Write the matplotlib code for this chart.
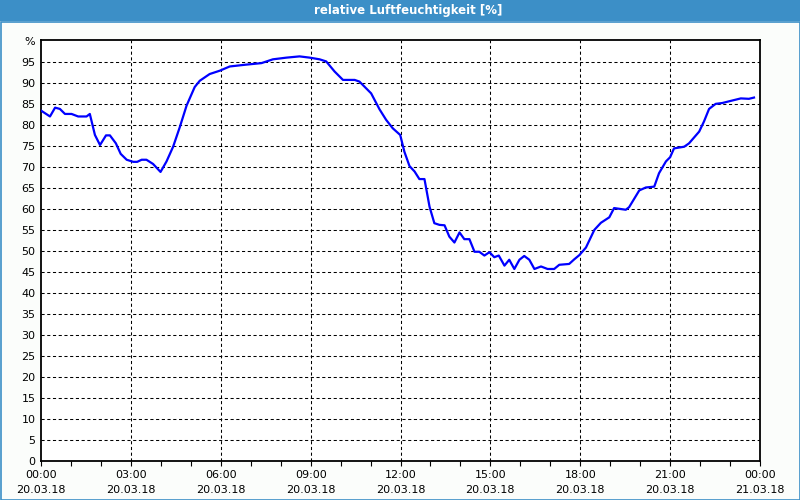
import matplotlib
matplotlib.use("Agg")
import matplotlib.pyplot as plt
from matplotlib.patches import Rectangle

# data: hours since 20.03.18 00:00, relative humidity in %
hours = [0.0, 0.3, 0.47, 0.63, 0.8, 1.02, 1.24, 1.52, 1.63, 1.8, 1.97, 2.17, 2.3, 2.5,
         2.66, 2.86, 3.08, 3.21, 3.36, 3.52, 3.74, 3.99, 4.19, 4.41, 4.63, 4.86, 5.13,
         5.3, 5.63, 5.97, 6.3, 6.8, 7.36, 7.74, 8.19, 8.63, 8.97, 9.3, 9.52, 9.8, 10.08,
         10.47, 10.63, 11.02, 11.3, 11.52, 11.74, 11.99, 12.13, 12.3, 12.47, 12.63, 12.8,
         12.97, 13.13, 13.3, 13.47, 13.63, 13.8, 13.97, 14.13, 14.3, 14.47, 14.63, 14.8,
         14.97, 15.13, 15.28, 15.47, 15.63, 15.8, 15.97, 16.13, 16.3, 16.47, 16.69, 16.91,
         17.13, 17.3, 17.63, 17.8, 17.97, 18.19, 18.47, 18.69, 18.97, 19.13, 19.52, 19.63,
         19.97, 20.19, 20.47, 20.63, 20.86, 21.0, 21.13, 21.47, 21.63, 21.97, 22.13, 22.3,
         22.52, 22.74, 23.02, 23.36, 23.63, 23.8]
humidity = [83.4, 82.0, 84.1, 83.8, 82.6, 82.6, 82.0, 82.0, 82.6, 77.6, 75.2, 77.5, 77.5, 75.6,
            73.1, 71.7, 71.2, 71.2, 71.7, 71.7, 70.7, 68.8, 71.3, 74.8, 79.4, 84.6, 89.0,
            90.5, 92.1, 92.9, 93.9, 94.3, 94.7, 95.6, 96.0, 96.3, 96.0, 95.6, 95.1, 92.7, 90.7,
            90.7, 90.3, 87.5, 83.7, 81.2, 79.2, 77.6, 73.6, 70.2, 68.9, 67.1, 67.1,
            60.5, 56.6, 56.2, 56.1, 53.4, 52.0, 54.4, 52.8, 52.8, 49.8, 49.8, 48.9,
            49.7, 48.5, 48.9, 46.5, 47.9, 45.7, 47.9, 48.8, 47.9, 45.7, 46.3, 45.7,
            45.7, 46.7, 46.9, 48.0, 49.0, 50.8, 55.0, 56.7, 58.0, 60.2, 59.8, 60.4,
            64.4, 65.1, 65.3, 68.5, 71.3, 72.3, 74.4, 74.8, 75.6, 78.4, 80.8, 83.8,
            85.0, 85.2, 85.7, 86.3, 86.2, 86.5]

xtick_hours = [0, 3, 6, 9, 12, 15, 18, 21, 24]
xtick_labels = ["00:00\n20.03.18", "03:00\n20.03.18", "06:00\n20.03.18", "09:00\n20.03.18",
                "12:00\n20.03.18", "15:00\n20.03.18", "18:00\n20.03.18", "21:00\n20.03.18",
                "00:00\n21.03.18"]
ytick_values = list(range(0, 101, 5))
ytick_labels = [str(v) for v in range(0, 100, 5)] + ["%"]
title = "relative Luftfeuchtigkeit [%]"

BAR = "#3c8fc7"
fig = plt.figure(figsize=(8, 5), dpi=100, facecolor="#fbfdfb")

# title bar and border
fig.patches.append(Rectangle((0, 1 - 21 / 500), 1, 21 / 500, transform=fig.transFigure,
                             facecolor=BAR, edgecolor="none", zorder=0))
fig.patches.append(Rectangle((0.5 / 800, 0.5 / 500), 799 / 800, 478 / 500, transform=fig.transFigure,
                             facecolor="none", edgecolor=BAR, linewidth=1.2, zorder=0))
fig.text(408 / 800, 1 - 10.5 / 500, title, color="white", fontsize=8.5, fontweight="bold",
         ha="center", va="center", family="DejaVu Sans")

ax = fig.add_axes([41 / 800, 1 - 461 / 500, 719 / 800, 421 / 500])
ax.set_facecolor("white")
ax.plot(hours, humidity, color="#0000ff", lw=1.6, zorder=3)

ax.set_xlim(0, 24)
ax.set_ylim(0, 100.2)
ax.set_xticks(xtick_hours)
ax.set_xticklabels(xtick_labels, fontsize=8, linespacing=1.6)
ax.set_xticks(range(0, 25), minor=True)
ax.set_yticks(ytick_values)
ax.set_yticklabels(ytick_labels, fontsize=8)
ax.tick_params(axis="x", which="both", length=3.5, width=0.8, direction="out", pad=3)
ax.tick_params(axis="y", length=0, pad=4)

for v in ytick_values[1:-1]:
    ax.axhline(v, color="black", lw=0.75, dashes=(3, 2.5), zorder=1)
for h in xtick_hours[1:-1]:
    ax.axvline(h, color="black", lw=0.75, dashes=(3, 2.5), zorder=1)

for s in ax.spines.values():
    s.set_linewidth(1.3)
    s.set_color("black")

fig.savefig("out.png", dpi=100, facecolor=fig.get_facecolor())
